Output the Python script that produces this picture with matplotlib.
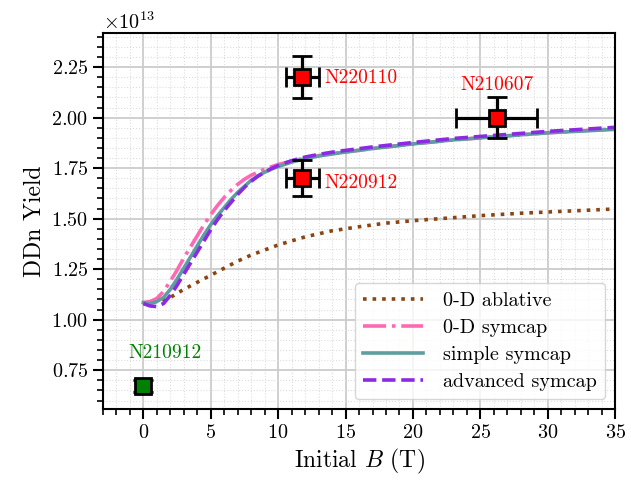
import numpy as np
from matplotlib import pyplot as plt
from matplotlib.ticker import MultipleLocator

plt.rcParams['font.family'] = 'serif'
plt.rcParams['font.serif'] = ['cmr10']
plt.rcParams['mathtext.fontset'] = 'cm'
plt.rcParams['axes.formatter.use_mathtext'] = True

# model curves (B in T, yield in 1e13)
b_ablative = [0, 1, 2, 3, 4, 5, 6, 7, 8, 9, 10, 11, 12, 14, 16, 18, 20, 22, 25, 28, 31, 35]
y_ablative = [1.08, 1.09, 1.11, 1.15, 1.185, 1.22, 1.255, 1.29, 1.32, 1.345, 1.37, 1.39, 1.41,
              1.44, 1.46, 1.478, 1.49, 1.50, 1.515, 1.527, 1.536, 1.548]

b_0d_symcap = [0, 0.5, 1, 1.5, 2, 2.5, 3, 3.5, 4, 4.5, 5, 5.5, 6, 6.5, 7, 7.5, 8, 8.5, 9, 9.5,
               10, 11, 12, 13, 14, 15, 17, 20, 23, 26, 30, 35]
y_0d_symcap = [1.085, 1.09, 1.105, 1.14, 1.19, 1.245, 1.305, 1.36, 1.415, 1.47, 1.52, 1.565, 1.605,
               1.64, 1.67, 1.695, 1.715, 1.73, 1.745, 1.757, 1.768, 1.785, 1.80, 1.812, 1.822,
               1.83, 1.847, 1.87, 1.89, 1.905, 1.925, 1.945]

b_simple = [0, 0.5, 1, 1.5, 2, 2.5, 3, 3.5, 4, 4.5, 5, 5.5, 6, 6.5, 7, 7.5, 8, 8.5, 9, 9.5,
            10, 11, 12, 13, 14, 15, 17, 20, 23, 26, 30, 35]
y_simple = [1.085, 1.08, 1.09, 1.11, 1.15, 1.20, 1.255, 1.31, 1.365, 1.42, 1.47, 1.515, 1.555,
            1.595, 1.63, 1.66, 1.69, 1.712, 1.73, 1.745, 1.758, 1.78, 1.797, 1.81, 1.82,
            1.83, 1.847, 1.87, 1.89, 1.905, 1.925, 1.942]

b_advanced = [0, 0.5, 1, 1.5, 2, 2.5, 3, 3.5, 4, 4.5, 5, 5.5, 6, 6.5, 7, 7.5, 8, 8.5, 9, 9.5,
              10, 11, 12, 13, 14, 15, 17, 20, 23, 26, 30, 35]
y_advanced = [1.08, 1.068, 1.065, 1.08, 1.12, 1.17, 1.225, 1.28, 1.335, 1.39, 1.445, 1.495, 1.54,
              1.58, 1.62, 1.655, 1.685, 1.71, 1.73, 1.748, 1.763, 1.787, 1.805, 1.818, 1.829,
              1.838, 1.855, 1.877, 1.897, 1.912, 1.932, 1.952]

# experimental shots
shots = ['N220110', 'N220912', 'N210607']
shot_b = [11.8, 11.8, 26.2]
shot_b_err = [1.2, 1.2, 3.0]
shot_yield = [2.20, 1.70, 2.00]
shot_yield_err = [0.105, 0.09, 0.10]

ref_shot = 'N210912'
ref_b = 0.0
ref_yield = 0.67
ref_yield_err = 0.03

scale = 1e13

fig = plt.figure(figsize=(6.31, 4.82), dpi=100)
ax = fig.add_axes([0.163, 0.151, 0.812, 0.781])

ax.plot(b_ablative, np.array(y_ablative) * scale, color='#8B4513', ls=':', lw=2.6, label='0-D ablative')
ax.plot(b_0d_symcap, np.array(y_0d_symcap) * scale, color='#FF69B4', ls='-.', lw=2.6, label='0-D symcap')
ax.plot(b_simple, np.array(y_simple) * scale, color='#5F9EA0', ls='-', lw=2.6, label='simple symcap')
ax.plot(b_advanced, np.array(y_advanced) * scale, color='#8A2BE2', ls='--', lw=2.6, label='advanced symcap')

ax.errorbar(shot_b, np.array(shot_yield) * scale, xerr=shot_b_err,
            yerr=np.array(shot_yield_err) * scale, fmt='s', color='black', mfc='red', mec='black',
            mew=2, ms=12, lw=2.3, capsize=7, capthick=2.3, zorder=5)
ax.errorbar([ref_b], [ref_yield * scale], yerr=[ref_yield_err * scale], fmt='s', color='black',
            mfc='green', mec='black', mew=2, ms=12, lw=2.3, capsize=7, capthick=2.3, zorder=5)

ax.text(13.4, 2.195 * scale, shots[0], color='red', fontsize=14, va='center', ha='left')
ax.text(13.4, 1.675 * scale, shots[1], color='red', fontsize=14, va='center', ha='left')
ax.text(26.2, 2.16 * scale, shots[2], color='red', fontsize=14, va='center', ha='center')
ax.text(-1.1, 0.835 * scale, ref_shot, color='green', fontsize=14, va='center', ha='left')

ax.set_xlim(-3, 35)
ax.set_ylim(0.557 * scale, 2.42 * scale)
ax.xaxis.set_major_locator(MultipleLocator(5))
ax.xaxis.set_minor_locator(MultipleLocator(1))
ax.yaxis.set_major_locator(MultipleLocator(0.25 * scale))
ax.yaxis.set_minor_locator(MultipleLocator(0.05 * scale))
ax.grid(which='major', color='#cccccc', lw=1.3)
ax.grid(which='minor', color='#dddddd', ls=':', lw=0.8)
ax.set_axisbelow(True)
ax.tick_params(which='major', length=7, width=1.5, labelsize=14.5)
ax.tick_params(which='minor', length=4, width=1.2)
for sp in ax.spines.values():
    sp.set_linewidth(1.5)
ax.yaxis.get_offset_text().set_fontsize(14.5)

ax.set_xlabel('Initial $B$ (T)', fontsize=17)
ax.set_ylabel('DDn Yield', fontsize=17)
ax.legend(loc='lower right', fontsize=14.5, handlelength=3.0, handletextpad=1.0,
          labelspacing=0.45, framealpha=0.8)

fig.savefig('out.png', dpi=100)
